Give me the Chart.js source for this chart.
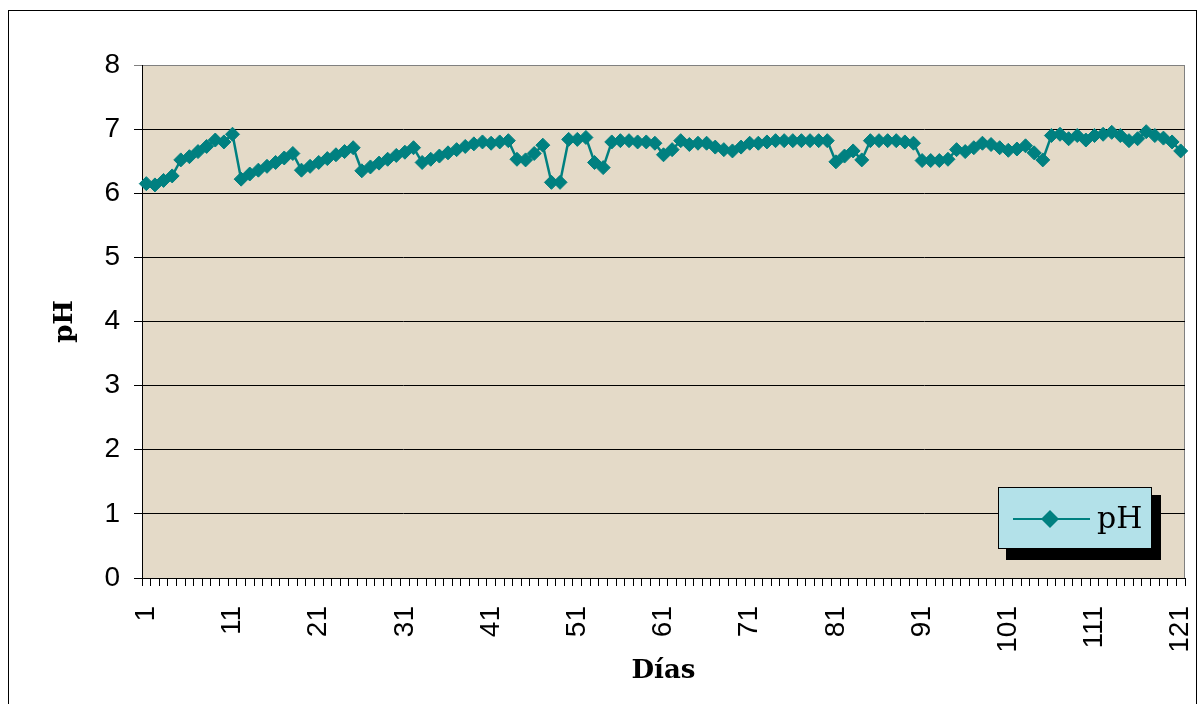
<!DOCTYPE html>
<html>
<head>
<meta charset="utf-8">
<script src="https://cdn.jsdelivr.net/npm/chart.js@4"></script>
<style>
  html, body { margin: 0; padding: 0; background: #fff; overflow: hidden; }
  canvas { display: block; }
</style>
</head>
<body>
<canvas id="phChart" width="1203" height="704"></canvas>
<script>
// days 1..121
const dias = [];
for (let d = 1; d <= 121; d++) dias.push(String(d));

// pH, 10 values per row
const phDias1a40 = [
    6.15, 6.13, 6.2, 6.27, 6.52, 6.57, 6.65, 6.73, 6.83, 6.8,
    6.92, 6.22, 6.3, 6.36, 6.42, 6.48, 6.55, 6.62, 6.36, 6.42,
    6.48, 6.54, 6.6, 6.65, 6.71, 6.35, 6.41, 6.47, 6.53, 6.59,
    6.64, 6.71, 6.48, 6.53, 6.58, 6.63, 6.68, 6.73, 6.77, 6.8,
];
const phDias41a80 = [
    6.78, 6.8, 6.82, 6.53, 6.52, 6.62, 6.75, 6.17, 6.17, 6.84,
    6.84, 6.87, 6.48, 6.4, 6.8, 6.82, 6.82, 6.8, 6.8, 6.78,
    6.6, 6.68, 6.82, 6.76, 6.78, 6.78, 6.72, 6.68, 6.66, 6.72,
    6.78, 6.78, 6.8, 6.82, 6.82, 6.82, 6.82, 6.82, 6.82, 6.82,
];
const phDias81a121 = [
    6.49, 6.58, 6.66, 6.52, 6.82, 6.82, 6.82, 6.82, 6.8, 6.78,
    6.51, 6.51, 6.51, 6.53, 6.68, 6.65, 6.71, 6.78, 6.76, 6.71,
    6.67, 6.69, 6.74, 6.63, 6.52, 6.9, 6.92, 6.85, 6.9, 6.83,
    6.9, 6.92, 6.95, 6.9, 6.82, 6.85, 6.96, 6.9, 6.86, 6.8,
    6.66,
];
const ph = [...phDias1a40, ...phDias41a80, ...phDias81a121];

const yTicks = [0, 1, 2, 3, 4, 5, 6, 7, 8];

const teal = "#008080";
const sans = "'Liberation Sans', Arial, sans-serif";
const serif = "'DejaVu Serif', 'Liberation Serif', serif";

const frameBg = {
    id: "frameBg",
    beforeDraw(chart) {
        const { ctx, chartArea: a } = chart;
        ctx.save();
        ctx.fillStyle = "#ffffff";
        ctx.fillRect(0, 0, chart.width, chart.height);
        // outer chart border
        ctx.strokeStyle = "#000";
        ctx.lineWidth = 1;
        ctx.strokeRect(8.5, 10.5, 1188, 720);
        // plot area
        ctx.fillStyle = "#e4dac8";
        ctx.fillRect(a.left, a.top, a.right - a.left, a.bottom - a.top);
        ctx.strokeStyle = "#808080";
        ctx.strokeRect(a.left + 0.5, a.top + 0.5, a.right - a.left - 1, a.bottom - a.top);
        ctx.restore();
    },
};

const legendBox = {
    id: "legendBox",
    afterDraw(chart) {
        const ctx = chart.ctx;
        const x = 998, y = 487, w = 153, h = 61;
        ctx.save();
        ctx.fillStyle = "#000";
        ctx.fillRect(x + 8, y + 8, w + 2, h + 4);
        ctx.fillStyle = "#b3e1e9";
        ctx.fillRect(x, y, w, h);
        ctx.strokeStyle = "#000";
        ctx.lineWidth = 1;
        ctx.strokeRect(x + 0.5, y + 0.5, w, h);
        // sample line + diamond
        const ly = 519;
        ctx.strokeStyle = teal;
        ctx.lineWidth = 2;
        ctx.beginPath();
        ctx.moveTo(1013, ly);
        ctx.lineTo(1090, ly);
        ctx.stroke();
        ctx.fillStyle = teal;
        ctx.beginPath();
        ctx.moveTo(1050, ly - 9);
        ctx.lineTo(1059, ly);
        ctx.lineTo(1050, ly + 9);
        ctx.lineTo(1041, ly);
        ctx.closePath();
        ctx.fill();
        ctx.fillStyle = "#000";
        ctx.font = "30px " + serif;
        ctx.textBaseline = "middle";
        ctx.fillText("pH", 1097, ly + 1);
        ctx.restore();
    },
};

new Chart(document.getElementById("phChart"), {
    type: "line",
    data: {
        labels: dias,
        datasets: [
            {
                label: "pH",
                data: ph,
                borderColor: teal,
                backgroundColor: teal,
                borderWidth: 2.5,
                tension: 0,
                pointStyle: "rectRot",
                pointRadius: 7,
                pointBorderWidth: 1,
                pointBackgroundColor: teal,
                pointBorderColor: teal,
            },
        ],
    },
    options: {
        responsive: false,
        animation: false,
        events: [],
        layout: { padding: { top: 65, right: 18, bottom: 0, left: 0 } },
        plugins: {
            legend: { display: false },
            tooltip: { enabled: false },
        },
        scales: {
            x: {
                type: "category",
                offset: true,
                afterFit: (s) => {
                    s.height = 126;
                    s.paddingLeft = 0;
                    s.paddingRight = 0;
                },
                border: { display: true, color: "#000", width: 1 },
                grid: {
                    offset: true,
                    drawOnChartArea: false,
                    drawTicks: true,
                    tickLength: 8,
                    color: "#000",
                },
                ticks: {
                    autoSkip: false,
                    minRotation: 90,
                    maxRotation: 90,
                    padding: 20,
                    color: "#000",
                    font: { family: sans, size: 28 },
                    callback: function (value, index) {
                        return index % 10 === 0 ? dias[index] : "";
                    },
                },
                title: {
                    display: true,
                    text: "Días",
                    color: "#000",
                    font: { family: serif, size: 26, weight: "bold" },
                    padding: { top: 0, bottom: 17 },
                },
            },
            y: {
                min: yTicks[0],
                max: yTicks[yTicks.length - 1],
                afterFit: (s) => {
                    s.width = 142;
                    s.paddingTop = 0;
                    s.paddingBottom = 0;
                },
                afterBuildTicks: (s) => { s.ticks = yTicks.map((v) => ({ value: v })); },
                border: { display: true, color: "#000", width: 1 },
                grid: {
                    drawTicks: true,
                    tickLength: 8,
                    lineWidth: 1,
                    color: (c) => (c.tick && c.tick.value === 8 ? "#808080" : "#000"),
                },
                ticks: {
                    padding: 14,
                    color: "#000",
                    font: { family: sans, size: 28 },
                },
                title: {
                    display: true,
                    text: "pH",
                    color: "#000",
                    font: { family: serif, size: 26, weight: "bold" },
                    padding: { top: 50, bottom: 0 },
                },
            },
        },
    },
    plugins: [frameBg, legendBox],
});
</script>
</body>
</html>
